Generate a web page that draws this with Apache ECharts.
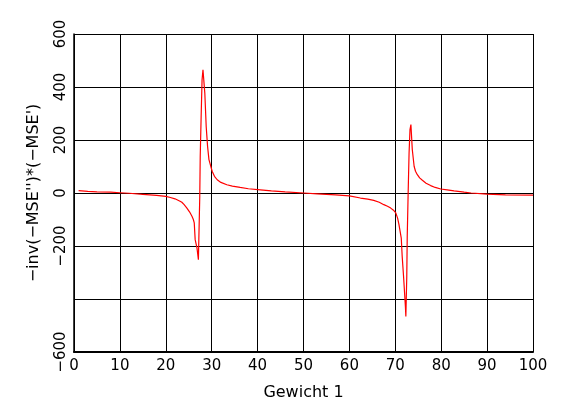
<!DOCTYPE html>
<html>
<head>
<meta charset="utf-8">
<script src="https://cdn.jsdelivr.net/npm/echarts@6/dist/echarts.min.js"></script>
<style>
    html, body { margin: 0; padding: 0; background: #fff; }
    #main { width: 576px; height: 417px; }
</style>
</head>
<body>
<div id="main"></div>
<script>
// values
var gewicht = [1, 3, 5, 8, 10, 12, 15, 18, 20, 21, 22, 23, 23.5, 24, 24.6,
    25.2, 25.7, 26.0, 26.2, 26.4, 26.8, 27.1, 27.4, 27.5, 27.7, 27.9, 28.1, 28.5, 28.8, 29.1,
    29.4, 30.1, 30.6, 31.2, 32, 33.3, 34.5, 36.2, 38, 40.6, 43, 46, 50, 53, 57,
    60, 62.4, 64, 65.3, 66.5, 67.5, 68.3, 69, 69.6, 70.1, 70.5, 70.8, 71.3, 71.5, 71.8,
    72.2, 72.3, 72.5, 72.6, 72.8, 73.0, 73.2, 73.4, 73.7, 74.1, 74.4, 74.8, 75.3, 75.9, 76.7,
    77.7, 78.7, 79.9, 81.3, 82.8, 85, 86.5, 90, 94, 100];
var wert = [9, 6, 4.5, 3, 1, -1, -5, -9, -13, -17, -22, -30, -35, -44, -57,
    -72, -88, -100, -113, -176, -208, -252, -13, 138, 289, 427, 465, 377, 251, 176,
    126, 82, 63, 50, 40, 31, 26, 21, 16, 12, 8, 4, 0, -3, -7,
    -11, -19, -23, -28, -35, -44, -50, -57, -65, -75, -95, -119, -170, -239, -315,
    -428, -466, -315, -164, 0, 151, 239, 258, 164, 101, 82, 69, 57, 48, 37,
    28, 21, 15, 12, 8, 3, 0, -4, -7, -8];
var yHidden = [-400];

var fontName = 'DejaVu Sans';

var initChart = function () {
    var myChart = echarts.init(document.getElementById('main'));
    var punkte = [];
    for (var i = 0; i < gewicht.length; i++) {
        punkte.push([gewicht[i], wert[i]]);
    }
    var minus = function (v) {
        return String(v).replace('-', '\u2212');
    };
    var option = {
        animation: false,
        backgroundColor: '#fff',
        grid: {
            left: 74,
            right: 43,
            top: 34,
            bottom: 65
        },
        xAxis: {
            type: 'value',
            min: 0,
            max: 100,
            interval: 10,
            name: 'Gewicht 1',
            nameLocation: 'middle',
            nameGap: 33,
            nameTextStyle: { color: '#000', fontFamily: fontName, fontSize: 16 },
            axisLine: { show: true, onZero: false, lineStyle: { color: '#000', width: 2 } },
            axisTick: { show: false },
            axisLabel: { color: '#000', fontFamily: fontName, fontSize: 15, margin: 7 },
            splitLine: { show: true, lineStyle: { color: '#000', width: 1 } }
        },
        yAxis: {
            type: 'value',
            min: -600,
            max: 600,
            interval: 200,
            name: "\u2212inv(\u2212MSE'')*(\u2212MSE')",
            nameLocation: 'middle',
            nameRotate: 90,
            nameGap: 32,
            nameTextStyle: { color: '#000', fontFamily: fontName, fontSize: 16 },
            axisLine: { show: true, onZero: false, lineStyle: { color: '#000', width: 1.5 } },
            axisTick: { show: false },
            axisLabel: {
                color: '#000',
                fontFamily: fontName,
                fontSize: 15,
                rotate: 90,
                margin: 5,
                formatter: function (v) {
                    if (yHidden.indexOf(v) >= 0) return '';
                    return minus(v);
                }
            },
            splitLine: { show: true, lineStyle: { color: '#000', width: 1 } }
        },
        series: [{
            type: 'line',
            data: punkte,
            showSymbol: false,
            lineStyle: { color: '#ff0000', width: 1.2 },
            itemStyle: { color: '#ff0000' }
        }]
    };
    myChart.setOption(option);
};

initChart();
</script>
</body>
</html>
